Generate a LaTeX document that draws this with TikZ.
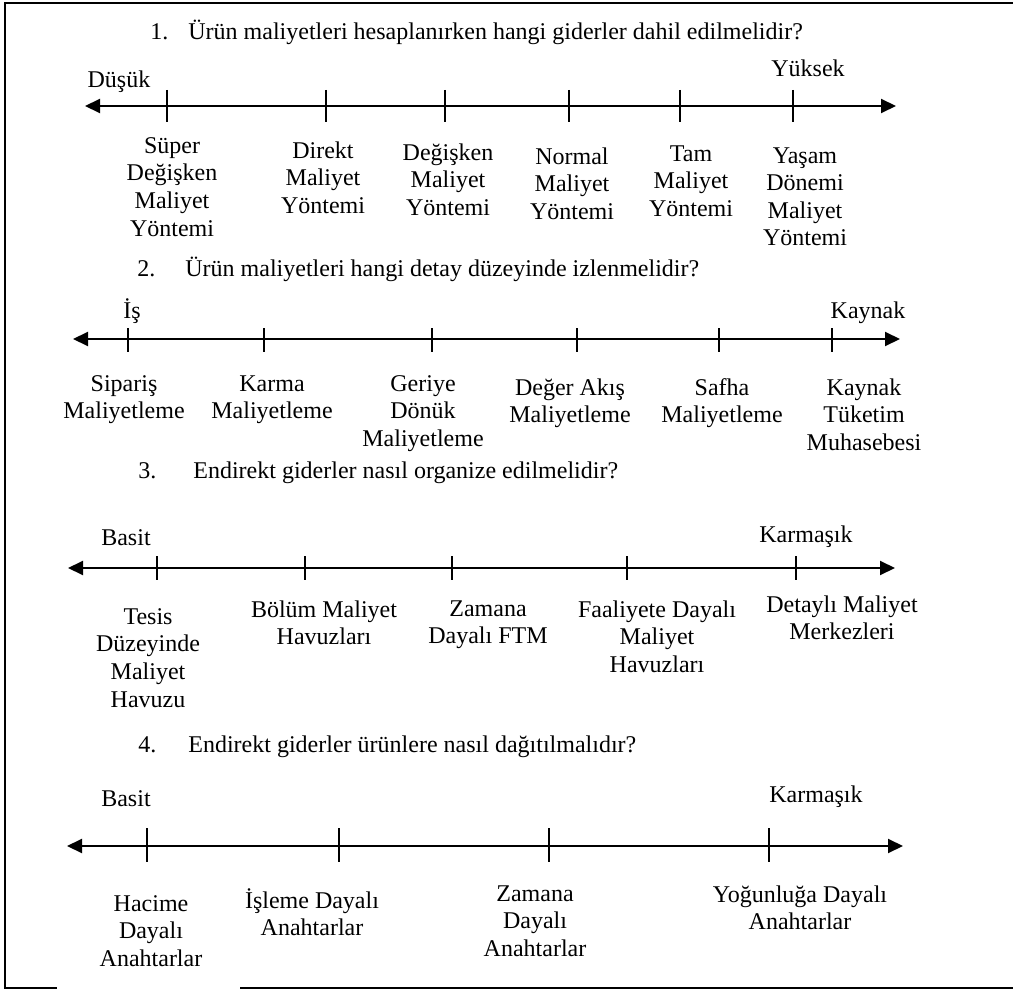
\documentclass[tikz,border=0pt]{standalone}
\usepackage{fontspec}
\setmainfont{Liberation Serif}
\usetikzlibrary{arrows.meta}

\tikzset{
  eksen/.style={line width=1pt,
    {Triangle[length=7.5pt,width=7pt]}-{Triangle[length=7.5pt,width=7pt]}},
  tik/.style={line width=0.75pt},
  cerceve/.style={line width=1pt},
  secenek/.style={anchor=north, inner sep=0pt},
  uc/.style={anchor=base, inner sep=0pt},
  soru/.style={anchor=base west, inner sep=0pt}
}

\begin{document}
\begin{tikzpicture}[x=0.5pt, y=-0.5pt, every text node part/.style={align=center},
    font=\fontsize{12}{13.8}\selectfont]

    \useasboundingbox (0,0) rectangle (1013,990);

    \draw[cerceve] (1013,3) -- (5,3) -- (5,988) -- (57,988);
    \draw[cerceve] (240,988) -- (1013,988);

    \node[soru] (Soru1No)   at (150,40)  {1.};
    \node[soru] (Soru1)     at (188,40)  {Ürün maliyetleri hesaplanırken hangi giderler dahil edilmelidir?};
    \node[uc]   (Dusuk)     at (119,88)  {Düşük};
    \node[uc]   (Yuksek)    at (808,77)  {Yüksek};

    \coordinate (E1Sol) at (85,106);
    \coordinate (E1Sag) at (896,106);
    \draw[eksen] (E1Sol) -- (E1Sag);
    \draw[tik] (167,90) -- (167,122);
    \draw[tik] (326,90) -- (326,122);
    \draw[tik] (445,90) -- (445,122);
    \draw[tik] (569,90) -- (569,122);
    \draw[tik] (680,90) -- (680,122);
    \draw[tik] (793,90) -- (793,122);

    \node[secenek] (SupDegMal) at (172,137) {Süper\\Değişken\\Maliyet\\Yöntemi};
    \node[secenek] (DirMal)    at (323,141) {Direkt\\Maliyet\\Yöntemi};
    \node[secenek] (DegMal)    at (448,143) {Değişken\\Maliyet\\Yöntemi};
    \node[secenek] (NorMal)    at (572,147) {Normal\\Maliyet\\Yöntemi};
    \node[secenek] (TamMal)    at (691,145) {Tam\\Maliyet\\Yöntemi};
    \node[secenek] (YasDon)    at (805,147) {Yaşam\\Dönemi\\Maliyet\\Yöntemi};

    \node[soru] (Soru2No)   at (137,277) {2.};
    \node[soru] (Soru2)     at (185,277) {Ürün maliyetleri hangi detay düzeyinde izlenmelidir?};
    \node[uc]   (Is)        at (132,318) {İş};
    \node[uc]   (Kaynak)    at (868,318) {Kaynak};

    \coordinate (E2Sol) at (73,339);
    \coordinate (E2Sag) at (900,339);
    \draw[eksen] (E2Sol) -- (E2Sag);
    \draw[tik] (128,328) -- (128,352);
    \draw[tik] (264,328) -- (264,352);
    \draw[tik] (432,328) -- (432,352);
    \draw[tik] (577,328) -- (577,352);
    \draw[tik] (719,328) -- (719,352);
    \draw[tik] (832,328) -- (832,352);

    \node[secenek] (SipMal)  at (124,375) {Sipariş\\Maliyetleme};
    \node[secenek] (KarMal)  at (272,375) {Karma\\Maliyetleme};
    \node[secenek] (GerDon)  at (423,375) {Geriye\\Dönük\\Maliyetleme};
    \node[secenek] (DegAkis) at (570,378) {Değer Akış\\Maliyetleme};
    \node[secenek] (SafMal)  at (722,378) {Safha\\Maliyetleme};
    \node[secenek] (KayTuk)  at (864,378) {Kaynak\\Tüketim\\Muhasebesi};

    \node[soru] (Soru3No)   at (138,478) {3.};
    \node[soru] (Soru3)     at (193,478) {Endirekt giderler nasıl organize edilmelidir?};
    \node[uc]   (Basit)     at (126,545) {Basit};
    \node[uc]   (Karmasik)  at (806,542) {Karmaşık};

    \coordinate (E3Sol) at (68,568);
    \coordinate (E3Sag) at (895,568);
    \draw[eksen] (E3Sol) -- (E3Sag);
    \draw[tik] (157,556) -- (157,580);
    \draw[tik] (305,556) -- (305,580);
    \draw[tik] (452,556) -- (452,580);
    \draw[tik] (627,556) -- (627,580);
    \draw[tik] (796,556) -- (796,580);

    \node[secenek] (TesDuz) at (148,608) {Tesis\\Düzeyinde\\Maliyet\\Havuzu};
    \node[secenek] (BolMal) at (324,600) {Bölüm Maliyet\\Havuzları};
    \node[secenek] (ZamFTM) at (488,600) {Zamana\\Dayalı FTM};
    \node[secenek] (FaaDay) at (657,600) {Faaliyete Dayalı\\Maliyet\\Havuzları};
    \node[secenek] (DetMal) at (842,595) {Detaylı Maliyet\\Merkezleri};

    \node[soru] (Soru4No)   at (138,752) {4.};
    \node[soru] (Soru4)     at (188,752) {Endirekt giderler ürünlere nasıl dağıtılmalıdır?};
    \node[uc]   (BasitB)    at (126,806) {Basit};
    \node[uc]   (KarmasikB) at (816,802) {Karmaşık};

    \coordinate (E4Sol) at (67,846);
    \coordinate (E4Sag) at (903,846);
    \draw[eksen] (E4Sol) -- (E4Sag);
    \draw[tik] (147,828) -- (147,862);
    \draw[tik] (339,828) -- (339,862);
    \draw[tik] (549,828) -- (549,862);
    \draw[tik] (769,828) -- (769,862);

    \node[secenek] (HacDay) at (151,895) {Hacime\\Dayalı\\Anahtarlar};
    \node[secenek] (IslDay) at (312,888) {İşleme Dayalı\\Anahtarlar};
    \node[secenek] (ZamDay) at (535,885) {Zamana\\Dayalı\\Anahtarlar};
    \node[secenek] (YogDay) at (800,885) {Yoğunluğa Dayalı\\Anahtarlar};
  \end{tikzpicture}
\end{document}
